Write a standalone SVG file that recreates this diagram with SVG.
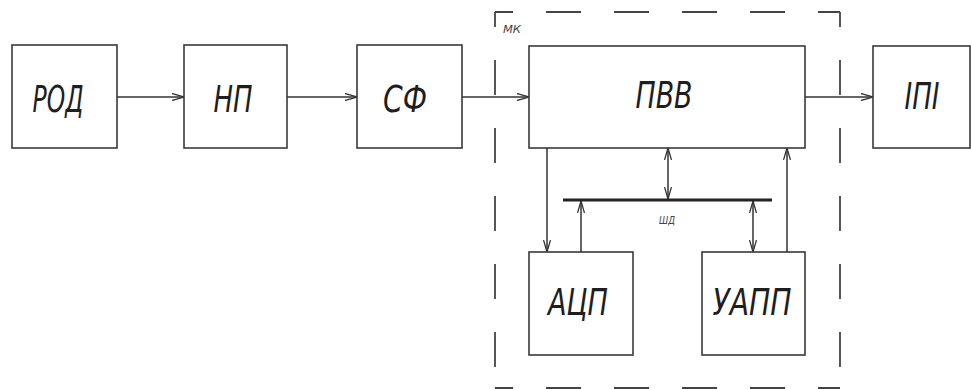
<svg xmlns="http://www.w3.org/2000/svg" width="971" height="389" viewBox="0 0 971 389">
<defs>
<marker id="ah" viewBox="0 0 12 8" refX="12" refY="4" markerWidth="12" markerHeight="8" markerUnits="userSpaceOnUse" orient="auto-start-reverse">
<path d="M0,0.5 L12,4 L0,7.5" fill="none" stroke="#333" stroke-width="1.3"/>
</marker>
<style>
.box{fill:#fff;stroke:#3a3a3a;stroke-width:1.6}
.ln{fill:none;stroke:#333;stroke-width:1.5}
.dash{fill:none;stroke:#444;stroke-width:1.8;stroke-dasharray:35 33}
.t{font-family:"DejaVu Sans Condensed","DejaVu Sans",sans-serif;font-style:italic;font-size:37px;fill:#1e1e1e;text-anchor:middle}
.s{font-family:"DejaVu Sans Condensed","DejaVu Sans",sans-serif;font-style:italic;font-size:11px;fill:#444;text-anchor:middle}
</style>
</defs>
<rect width="971" height="389" fill="#fff"/>
<g id="mk">
<line class="dash" x1="495" y1="12" x2="840" y2="12" style="stroke-dashoffset:17"/>
<line class="dash" x1="495" y1="12" x2="495" y2="389" style="stroke-dashoffset:20"/>
<line class="dash" x1="840" y1="12" x2="840" y2="389" style="stroke-dashoffset:20"/>
<line class="dash" x1="495" y1="388" x2="840" y2="388" style="stroke-dashoffset:17"/>
<text class="s" x="512" y="33" textLength="18" lengthAdjust="spacingAndGlyphs">МК</text>
</g>
<g id="connectors">
<line class="ln" x1="117" y1="97" x2="184" y2="97" marker-end="url(#ah)"/>
<line class="ln" x1="287" y1="97" x2="357" y2="97" marker-end="url(#ah)"/>
<line class="ln" x1="462" y1="97" x2="529" y2="97" marker-end="url(#ah)"/>
<line class="ln" x1="805" y1="97" x2="873" y2="97" marker-end="url(#ah)"/>
<line class="ln" x1="547" y1="148" x2="547" y2="252" marker-end="url(#ah)"/>
<line class="ln" x1="581" y1="252" x2="581" y2="201" marker-end="url(#ah)"/>
<line class="ln" x1="668" y1="148" x2="668" y2="199" marker-start="url(#ah)" marker-end="url(#ah)"/>
<line class="ln" x1="753" y1="201" x2="753" y2="252" marker-start="url(#ah)" marker-end="url(#ah)"/>
<line class="ln" x1="787" y1="252" x2="787" y2="148" marker-end="url(#ah)"/>
</g>
<g id="bus">
<line x1="563" y1="200" x2="772" y2="200" stroke="#222" stroke-width="3.2"/>
<text class="s" x="667" y="224" textLength="16" lengthAdjust="spacingAndGlyphs">ШД</text>
</g>
<g id="rod">
<rect class="box" x="12" y="45" width="105" height="103"/>
<text class="t" x="58" y="112" textLength="51" lengthAdjust="spacingAndGlyphs">РОД</text>
</g>
<g id="np">
<rect class="box" x="184" y="45" width="103" height="103"/>
<text class="t" x="233" y="112" textLength="39" lengthAdjust="spacingAndGlyphs">НП</text>
</g>
<g id="sf">
<rect class="box" x="357" y="45" width="105" height="103"/>
<text class="t" x="405" y="112" textLength="44" lengthAdjust="spacingAndGlyphs">СФ</text>
</g>
<g id="pvv">
<rect class="box" x="529" y="46" width="276" height="102"/>
<text class="t" x="664" y="108" textLength="57" lengthAdjust="spacingAndGlyphs">ПВВ</text>
</g>
<g id="ipi">
<rect class="box" x="873" y="46" width="97" height="102"/>
<text class="t" x="922" y="109" textLength="35" lengthAdjust="spacingAndGlyphs">ІПІ</text>
</g>
<g id="acp">
<rect class="box" x="529" y="252" width="104" height="103"/>
<text class="t" x="578" y="315" textLength="60" lengthAdjust="spacingAndGlyphs">АЦП</text>
</g>
<g id="uapp">
<rect class="box" x="702" y="252" width="103" height="103"/>
<text class="t" x="752" y="315" textLength="79" lengthAdjust="spacingAndGlyphs">УАПП</text>
</g>
</svg>
